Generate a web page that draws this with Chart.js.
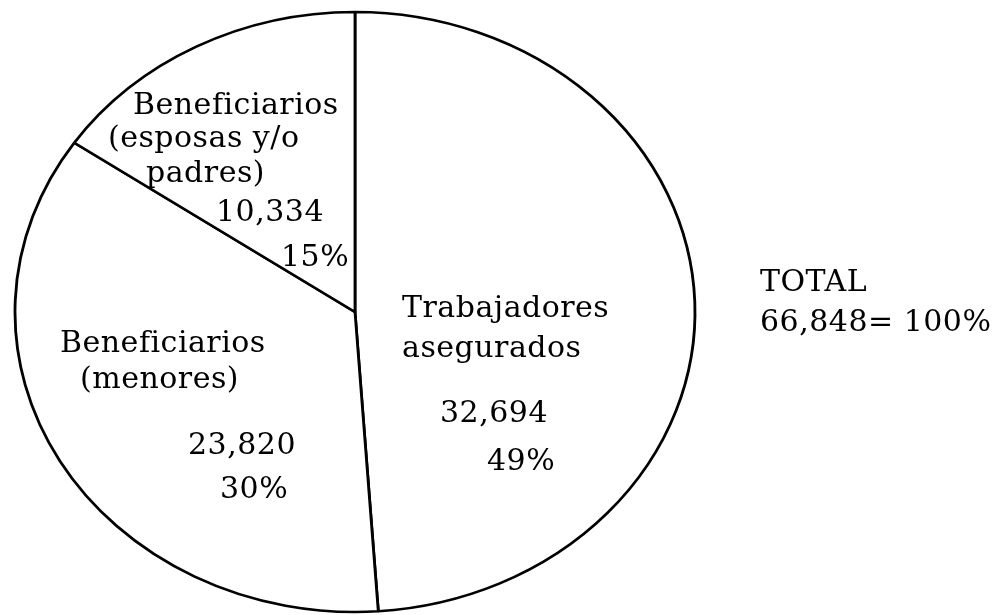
<!DOCTYPE html>
<html>
<head>
<meta charset="utf-8">
<script src="https://cdn.jsdelivr.net/npm/chart.js@4.4.1/dist/chart.umd.min.js"></script>
<style>
  html, body { margin: 0; padding: 0; background: #ffffff; }
  #wrap { width: 993px; height: 615px; }
</style>
</head>
<body>
<div id="wrap"><canvas id="c" width="993" height="615"></canvas></div>
<script>
// ---- data ----
const categories = ['Trabajadores asegurados', 'Beneficiarios (menores)', 'Beneficiarios (esposas y/o padres)'];
const values = [32694, 23820, 10334];
const valueLabels = ['32,694', '23,820', '10,334'];
const percentLabels = ['49%', '30%', '15%'];
const nameLines = [
  ['Trabajadores', 'asegurados'],
  ['Beneficiarios', '(menores)'],
  ['Beneficiarios', '(esposas y/o', 'padres)']
];
const totalLines = ['TOTAL', '66,848= 100%'];

// ---- layout / style (text anchor positions, left-aligned baselines) ----
const FONT = "30px 'DejaVu Serif'";
const namePos = [
  [[402, 317], [402, 357]],
  [[60, 352], [80, 388]],
  [[133, 114], [108, 147], [146, 182]]
];
const valuePos = [[440, 422], [188, 454], [216, 221]];
const pctPos = [[487, 470], [220, 498], [281, 266]];
const totalPos = [[760, 291], [760, 331]];
const ELLIPSE_X = 340 / 300;

const ellipsePlugin = {
  id: 'ellipse',
  beforeDatasetsDraw(chart) {
    const arc = chart.getDatasetMeta(0).data[0];
    const ctx = chart.ctx;
    ctx.save();
    ctx.translate(arc.x, arc.y);
    ctx.scale(ELLIPSE_X, 1);
    ctx.translate(-arc.x, -arc.y);
  },
  afterDatasetsDraw(chart) {
    chart.ctx.restore();
  }
};

const textPlugin = {
  id: 'texts',
  afterDraw(chart) {
    const ctx = chart.ctx;
    ctx.save();
    ctx.font = FONT;
    ctx.fillStyle = '#000000';
    ctx.textAlign = 'left';
    ctx.textBaseline = 'alphabetic';
    try { ctx.letterSpacing = '0.5px'; } catch (e) {}
    nameLines.forEach((lines, i) => {
      lines.forEach((t, j) => ctx.fillText(t, namePos[i][j][0], namePos[i][j][1]));
      ctx.fillText(valueLabels[i], valuePos[i][0], valuePos[i][1]);
      ctx.fillText(percentLabels[i], pctPos[i][0], pctPos[i][1]);
    });
    totalLines.forEach((t, j) => ctx.fillText(t, totalPos[j][0], totalPos[j][1]));
    ctx.restore();
  }
};

new Chart(document.getElementById('c'), {
  type: 'pie',
  data: {
    labels: categories,
    datasets: [{
      data: values,
      backgroundColor: '#ffffff',
      borderColor: '#000000',
      borderWidth: 2.5,
      hoverOffset: 0,
      borderAlign: 'center'
    }]
  },
  options: {
    responsive: false,
    animation: false,
    rotation: 0,
    radius: 300,
    layout: { padding: { top: 12, bottom: 3, left: 55, right: 338 } },
    plugins: {
      legend: { display: false },
      tooltip: { enabled: false },
      title: { display: false }
    },
    events: []
  },
  plugins: [ellipsePlugin, textPlugin]
});
</script>
</body>
</html>
